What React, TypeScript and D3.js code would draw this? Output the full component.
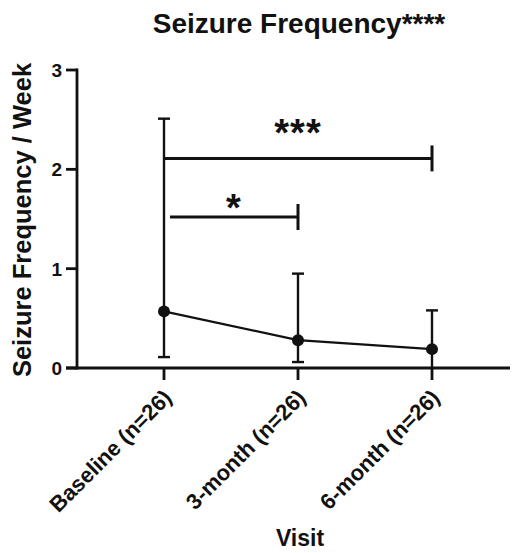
import React from "react";
import * as d3 from "d3";

const categories = ["Baseline (n=26)", "3-month (n=26)", "6-month (n=26)"];
const means = [0.57, 0.28, 0.19];
const upper = [2.51, 0.95, 0.58];
const lower = [0.11, 0.06, null as number | null];
const yTicks = [0, 1, 2, 3];
const brackets = [
  { from: 0, to: 2, y: 2.11, label: "***" },
  { from: 0, to: 1, y: 1.52, label: "*" },
];

// style-only: vertical offset of the star label's ink centre above the bracket line
const starLift = [34, 17];
const starInset = [0, 6];

const W = 512;
const H = 553;
const FONT = "'Liberation Sans', Arial, Helvetica, sans-serif";

export default function App() {
  const y = d3.scaleLinear().domain([0, 3]).range([368, 70]);
  const x = d3.scalePoint<string>().domain(categories).range([164, 432]);
  const axisX0 = 77;
  const axisX1 = 510;

  const line = d3
    .line<number>()
    .x((_, i) => x(categories[i])!)
    .y((d) => y(d));

  const starFs = 38;

  return (
    <svg
      width={W}
      height={H}
      style={{ position: "absolute", left: 0, top: 0, background: "#fff" }}
      fontFamily={FONT}
    >
      <rect width={W} height={H} fill="#fff" />
      {/* Title */}
      <text x={299} y={33} textAnchor="middle" fontSize={28} fontWeight="bold" fill="#111">
        Seizure Frequency****
      </text>

      {/* Y axis */}
      <line x1={axisX0} x2={axisX0} y1={y(3) - 1.4} y2={y(0) + 1.4} stroke="#111" strokeWidth={2.8} />
      {yTicks.map((t) => (
        <g key={t}>
          <line x1={axisX0 - 11} x2={axisX0} y1={y(t)} y2={y(t)} stroke="#111" strokeWidth={2.8} />
          <text
            x={axisX0 - 15}
            y={y(t)}
            dy="0.36em"
            textAnchor="end"
            fontSize={19}
            fontWeight="bold"
            fill="#111"
          >
            {t}
          </text>
        </g>
      ))}
      <text
        transform={`translate(31, ${220}) rotate(-90)`}
        textAnchor="middle"
        fontSize={25.5}
        fontWeight="bold"
        fill="#111"
      >
        Seizure Frequency / Week
      </text>

      {/* X axis */}
      <line x1={axisX0 - 11} x2={axisX1} y1={y(0)} y2={y(0)} stroke="#111" strokeWidth={2.8} />
      {categories.map((c) => (
        <g key={c}>
          <line x1={x(c)!} x2={x(c)!} y1={y(0)} y2={y(0) + 12} stroke="#111" strokeWidth={2.8} />
          <text
            transform={`translate(${x(c)! + 9}, ${y(0) + 31}) rotate(-45)`}
            textAnchor="end"
            fontSize={22}
            fontWeight="bold"
            fill="#111"
          >
            {c}
          </text>
        </g>
      ))}
      <text x={300} y={546} textAnchor="middle" fontSize={23} fontWeight="bold" fill="#111">
        Visit
      </text>

      {/* Error bars */}
      {categories.map((c, i) => {
        const cx = x(c)!;
        const lo = lower[i];
        return (
          <g key={"e" + c} stroke="#111" strokeWidth={2.4}>
            <line x1={cx} x2={cx} y1={y(upper[i])} y2={y(lo ?? 0)} />
            <line x1={cx - 6} x2={cx + 6} y1={y(upper[i])} y2={y(upper[i])} />
            {lo !== null && <line x1={cx - 6} x2={cx + 6} y1={y(lo)} y2={y(lo)} />}
          </g>
        );
      })}

      {/* Mean line */}
      <path d={line(means)!} fill="none" stroke="#111" strokeWidth={2.2} />
      {means.map((m, i) => (
        <circle key={"p" + i} cx={x(categories[i])!} cy={y(m)} r={6} fill="#111" />
      ))}

      {/* Significance brackets */}
      {brackets.map((b, k) => {
        const x1 = x(categories[b.from])! + starInset[k];
        const x2 = x(categories[b.to])!;
        const yy = y(b.y);
        const centre = yy - starLift[k];
        return (
          <g key={b.label}>
            <line x1={x1} x2={x2} y1={yy} y2={yy} stroke="#111" strokeWidth={3} />
            <line x1={x2} x2={x2} y1={yy - 13} y2={yy + 13} stroke="#111" strokeWidth={3} />
            <text
              x={(x1 + x2) / 2}
              y={centre + 0.56 * starFs}
              textAnchor="middle"
              fontSize={starFs}
              fontWeight="bold"
              letterSpacing={1}
              fill="#111"
            >
              {b.label}
            </text>
          </g>
        );
      })}
    </svg>
  );
}
